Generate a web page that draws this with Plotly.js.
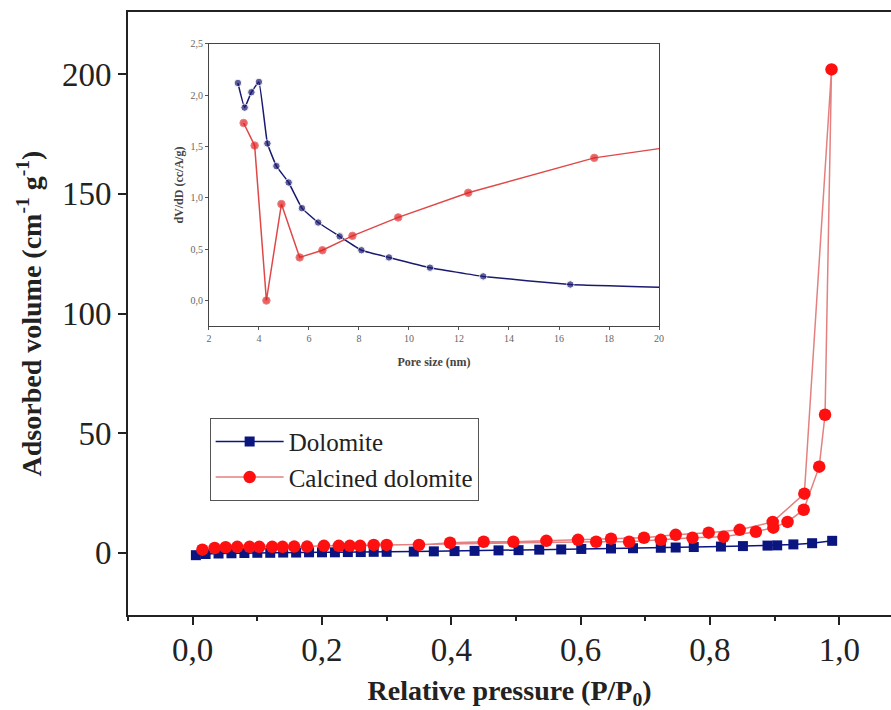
<!DOCTYPE html>
<html>
<head>
<meta charset="utf-8">
<script src="https://cdn.plot.ly/plotly-3.0.1.min.js"></script>
<style>
html,body{margin:0;padding:0;background:#fff;}
#chart{width:891px;height:710px;}
</style>
</head>
<body>
<div id="chart"></div>
<script>
// ---- Main isotherm data (relative pressure P/P0, adsorbed volume) ----
const dolomiteX = [0.005,0.02,0.04,0.06,0.08,0.10,0.12,0.14,0.16,0.18,0.20,0.22,0.24,0.26,0.28,0.30,
  0.342,0.373,0.405,0.436,0.473,0.504,0.536,0.570,0.601,0.647,0.681,0.724,0.747,0.775,0.817,0.851,0.889,0.904,0.929,0.958,0.989];
const dolomiteY = [-1.0,-0.5,-0.3,-0.2,-0.1,0.0,0.0,0.1,0.1,0.2,0.2,0.2,0.3,0.3,0.4,0.4,
  0.5,0.6,0.7,0.8,1.0,1.1,1.3,1.4,1.6,1.8,1.9,2.1,2.2,2.4,2.6,2.8,3.0,3.1,3.5,4.0,5.0];

const calcAdsX = [0.015,0.034,0.051,0.069,0.088,0.103,0.123,0.139,0.157,0.177,0.203,0.226,0.243,0.259,0.280,0.300,
  0.624,0.675,0.724,0.773,0.821,0.871,0.898,0.920,0.945,0.969,0.978,0.988];
const calcAdsY = [1.3,2.0,2.3,2.5,2.5,2.5,2.5,2.5,2.6,2.6,2.9,2.9,2.9,2.9,3.3,3.3,
  4.6,4.6,5.4,6.3,6.7,8.8,10.5,12.9,18.0,36.0,57.7,202.0];
const calcDesX = [0.946,0.897,0.846,0.798,0.747,0.698,0.647,0.596,0.547,0.496,0.450,0.398,0.350];
const calcDesY = [24.7,12.9,9.6,8.4,7.5,6.3,5.9,5.4,5.0,4.6,4.6,4.2,3.3];

// ---- Inset: pore size distribution (nm, dV/dD) ----
const poreDolX = [3.16,3.43,3.70,4.00,4.34,4.70,5.19,5.72,6.37,7.23,8.10,9.20,10.84,12.97,16.45,20.0];
const poreDolY = [2.12,1.88,2.03,2.13,1.53,1.31,1.15,0.90,0.76,0.625,0.49,0.42,0.32,0.235,0.156,0.13];
const poreCalX = [3.39,3.83,4.30,4.90,5.63,6.54,7.74,9.57,12.37,17.41,20.0];
const poreCalY = [1.73,1.51,0.0,0.94,0.42,0.49,0.63,0.81,1.05,1.39,1.48];

const mainTicksX = [0,0.2,0.4,0.6,0.8,1.0];
const mainTicksY = [0,50,100,150,200];
const insetTicksX = [2,4,6,8,10,12,14,16,18,20];
const insetTicksY = [0,0.5,1.0,1.5,2.0,2.5];

const navy = '#0b1580';
const red = '#ff1010';
const redLine = '#e48080';
const serif = "'Liberation Serif', 'Times New Roman', serif";

const calcX = calcAdsX.concat(calcDesX);
const calcY = calcAdsY.concat(calcDesY);

const traces = [
  {x: dolomiteX, y: dolomiteY, type:'scatter', mode:'lines+markers', name:'Dolomite',
   line:{color:navy, width:1.5}, marker:{symbol:'square', size:10, color:navy}, xaxis:'x', yaxis:'y'},
  {x: calcX, y: calcY, type:'scatter', mode:'lines+markers', name:'Calcined dolomite',
   line:{color:redLine, width:1.5}, marker:{symbol:'circle', size:12.5, color:red}, xaxis:'x', yaxis:'y'},
  {x: poreDolX, y: poreDolY, type:'scatter', mode:'lines+markers', showlegend:false,
   line:{color:'#1a1a70', width:1.5, shape:'spline', smoothing:0.3},
   marker:{size: poreDolX.map(v => v >= 19.9 ? 0 : 7.5), color:'#1a1a70'}, xaxis:'x2', yaxis:'y2'},
  {x: poreCalX, y: poreCalY, type:'scatter', mode:'lines+markers', showlegend:false,
   line:{color:'#e04848', width:1.5},
   marker:{size: poreCalX.map(v => v >= 19.9 ? 0 : 7.5), color:'#e02020'}, xaxis:'x2', yaxis:'y2'}
];

const layout = {
  width: 891, height: 710,
  margin: {l:128, r:0, t:12, b:95},
  paper_bgcolor:'#fff', plot_bgcolor:'#fff',
  separators: ',.',
  showlegend: true,
  font: {family: serif, color:'#222'},
  legend: {x:0.107, y:0.327, xanchor:'left', yanchor:'top',
    bordercolor:'#555', borderwidth:1, bgcolor:'#fff',
    font:{family:serif, size:25, color:'#222'}, tracegroupgap:0, itemwidth:68},
  xaxis: {
    range:[-0.1, 1.08], tickvals: mainTicksX, tickformat:'.1f',
    ticks:'outside', ticklen:8, tickwidth:2, tickcolor:'#222',
    minor:{dtick:0.1, ticks:'outside', ticklen:4, tickwidth:2, tickcolor:'#222'},
    showline:true, linecolor:'#222', linewidth:2, mirror:true,
    showgrid:false, zeroline:false, ticklabelstandoff:-4,
    tickfont:{family:serif, size:33, color:'#222'},
    title:{text:'<b>Relative pressure (P/P<sub>0</sub>)</b>', font:{family:serif, size:28, color:'#222'}, standoff:16}
  },
  yaxis: {
    range:[-26, 226], tickvals: mainTicksY,
    ticks:'outside', ticklen:8, tickwidth:2, tickcolor:'#222',
    showline:true, linecolor:'#222', linewidth:2,
    showgrid:false, zeroline:false,
    tickfont:{family:serif, size:33, color:'#222'},
    title:{text:'<b>Adsorbed volume (cm<sup>-1</sup> g<sup>-1</sup>)</b>', font:{family:serif, size:28, color:'#222'}, standoff:12}
  },
  xaxis2: {
    domain:[0.106, 0.696], anchor:'y2', range:[2,20], tickvals: insetTicksX,
    ticks:'outside', ticklen:3, tickwidth:1, tickcolor:'#555',
    showline:true, linecolor:'#444', linewidth:1, mirror:true,
    showgrid:false, zeroline:false,
    tickfont:{family:serif, size:10, color:'#666'},
    title:{text:'<b>Pore size (nm)</b>', font:{family:serif, size:12, color:'#444'}, standoff:14}
  },
  yaxis2: {
    domain:[0.479, 0.947], anchor:'x2', range:[-0.25, 2.5], tickvals: insetTicksY, tickformat:'.1f',
    ticks:'outside', ticklen:3, tickwidth:1, tickcolor:'#555',
    showline:true, linecolor:'#444', linewidth:1, mirror:true,
    showgrid:false, zeroline:false,
    tickfont:{family:serif, size:10, color:'#666'},
    title:{text:'<b>dV/dD (cc/A/g)</b>', font:{family:serif, size:12, color:'#444'}, standoff:4}
  }
};

Plotly.newPlot('chart', traces, layout, {displayModeBar:false, staticPlot:true});
</script>
</body>
</html>
